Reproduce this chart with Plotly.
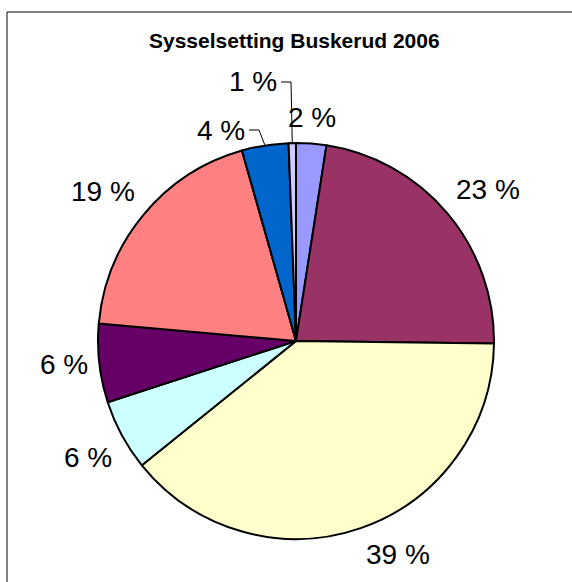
import math
import plotly.graph_objects as go

# andel sysselsatte (%) per næring, lest av figuren, med klokka fra kl. 12
naering = ["Næring 1", "Næring 2", "Næring 3", "Næring 4",
           "Næring 5", "Næring 6", "Næring 7", "Næring 8"]
andel = [2.46, 22.74, 39.0, 5.8, 6.4, 19.2, 3.8, 0.6]
farger = ["#9999FF", "#993366", "#FFFFCC", "#CCFFFF",
          "#660066", "#FF8080", "#0066CC", "#CCCCFF"]

W, H = 572, 582
CX, CY, R = 296, 341, 198   # sentrum og radius i piksler
GAP = 9
FONT = "Arial, Liberation Sans, sans-serif"
LABEL_SIZE = 28

# etiketter som Excel flyttet ut med hjelpelinje (høyre kant, midt) i piksler
flyttet = {6: (247, 130), 7: (279, 82)}


def px(x, y):
    return x / W, 1 - y / H


fig = go.Figure()
x0, y0 = px(CX - R, CY + R)
x1, y1 = px(CX + R, CY - R)
fig.add_trace(go.Pie(
    labels=naering, values=andel, sort=False, direction="clockwise", rotation=0,
    marker=dict(colors=farger, line=dict(color="black", width=2)),
    textinfo="none", hoverinfo="label+percent", showlegend=False,
    domain=dict(x=[x0, x1], y=[y0, y1]),
))

total = sum(andel)
cum = 0
annotations = []
shapes = []
for i, v in enumerate(andel):
    mid = (cum + v / 2) / total * 2 * math.pi
    cum += v
    s, c = math.sin(mid), math.cos(mid)
    tekst = f"{round(v / total * 100)} %"
    if i in flyttet:
        rx, ry = flyttet[i]
        ax, ay = px(rx, ry)
        annotations.append(dict(x=ax, y=ay, xref="paper", yref="paper", text=tekst,
                                showarrow=False, xanchor="right", yanchor="middle",
                                font=dict(family=FONT, size=LABEL_SIZE, color="black")))
        ex, ey = CX + R * s, CY - R * c
        p1 = px(rx + 2, ry)
        p2 = px(rx + 12, ry)
        p3 = px(ex, ey)
        shapes.append(dict(type="path", xref="paper", yref="paper",
                           path=f"M {p1[0]},{p1[1]} L {p2[0]},{p2[1]} L {p3[0]},{p3[1]}",
                           line=dict(color="black", width=1)))
        continue
    lx, ly = CX + (R + GAP) * s, CY - (R + GAP) * c
    xa = "left" if s > 0.3 else "right" if s < -0.3 else "center"
    ya = "bottom" if c > 0.3 else "top" if c < -0.3 else "middle"
    ax, ay = px(lx, ly)
    annotations.append(dict(x=ax, y=ay, xref="paper", yref="paper", text=tekst,
                            showarrow=False, xanchor=xa, yanchor=ya,
                            font=dict(family=FONT, size=LABEL_SIZE, color="black")))

tx, ty = px(294.5, 41)
annotations.append(dict(x=tx, y=ty, xref="paper", yref="paper",
                        text="<b>Sysselsetting Buskerud 2006</b>", showarrow=False,
                        xanchor="center", yanchor="middle",
                        font=dict(family=FONT, size=21, color="black")))

# ramme rundt diagrammet (går ut av bildet til høyre og nederst)
fx0, fy1 = px(7, 12)
shapes.append(dict(type="rect", xref="paper", yref="paper",
                   x0=fx0, x1=1.02, y0=-0.02, y1=fy1,
                   line=dict(color="black", width=1)))

fig.update_layout(
    width=W, height=H,
    margin=dict(l=0, r=0, t=0, b=0),
    paper_bgcolor="white", plot_bgcolor="white",
    annotations=annotations, shapes=shapes,
)

fig.write_html("out.html", config={"displayModeBar": False},
               post_script="document.body.style.margin='0';")
